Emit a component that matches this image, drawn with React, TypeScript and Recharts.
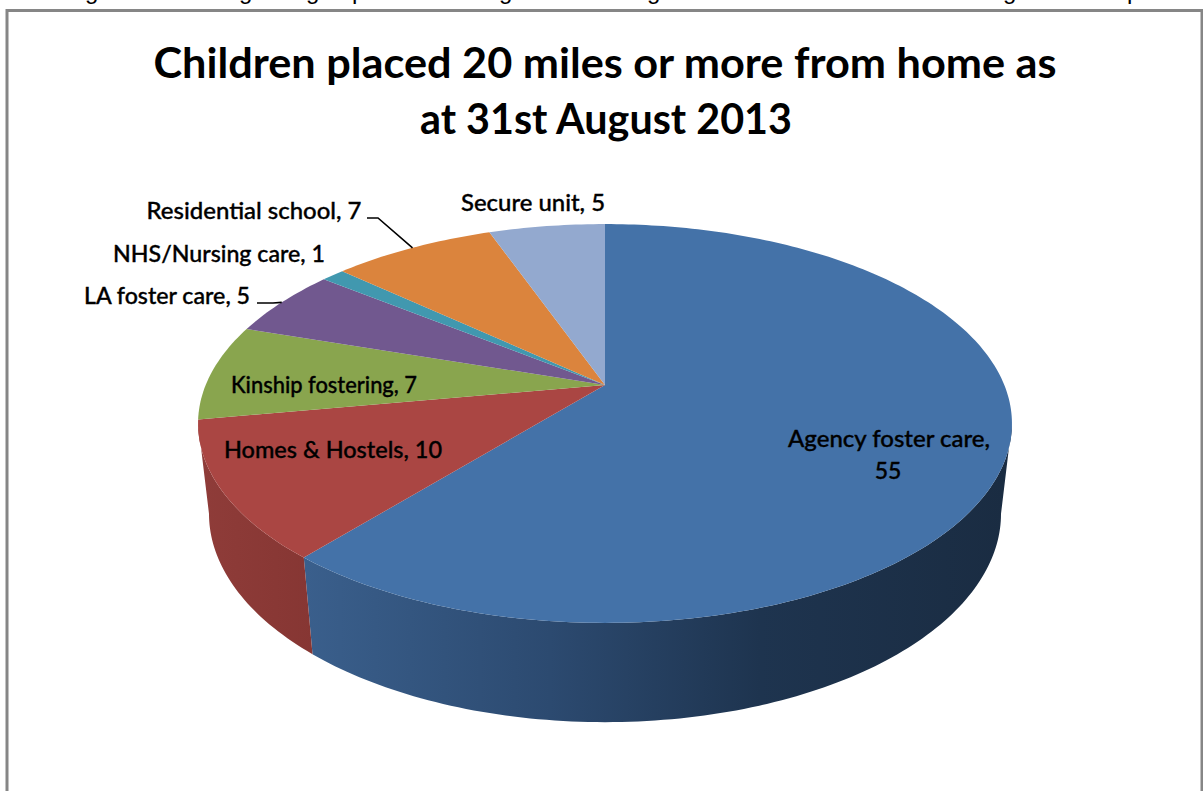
import React from "react";
import { PieChart, Pie, Cell } from "recharts";

// Placement categories and the number of children in each.
const categories = [
  "Agency foster care",
  "Homes & Hostels",
  "Kinship fostering",
  "LA foster care",
  "NHS/Nursing care",
  "Residential school",
  "Secure unit",
];
const childCounts = [55, 10, 7, 5, 1, 7, 5];
const topColors = ["#4472A8", "#AA4643", "#89A54E", "#71588F", "#4198AF", "#DB843D", "#93A9CF"];
const wallColors = ["url(#agencyWall)", "url(#homesWall)", "none", "none", "none", "none", "none"];

const titleLines = ["Children placed 20 miles or more from home as", "at 31st August 2013"];
const titleWidths = [903, 372];

// Label placement: horizontal centre and baseline of each label's first line, and its set width.
const labelCentres: [number, number][] = [
  [889, 447],
  [333, 458],
  [324, 393],
  [167, 304],
  [219, 262],
  [254, 219],
  [533, 211],
];
const labelWidths = [202, 218, 186, 166, 212, 215, 144];
const labelLeaders: ([number, number][] | null)[] = [
  null,
  null,
  null,
  [[257, 303], [273, 303]],
  null,
  [[367, 218], [378, 218]],
  null,
];

// Clipped line of body text sitting above the chart frame; only descenders show.
const clippedGlyphs = "gggpgggp";
const clippedGlyphX = "85 239 306 352 499 647 1003 1127";

const WIDTH = 1203;
const HEIGHT = 791;
const CX = 605;
const CY = 385;

type Plane = { apexY: number; a: number; b: number; k: number };
const topPlane: Plane = { apexY: CY, a: 399.3, b: 192, k: 0.193 };
const basePlane: Plane = { apexY: 474, a: 388.8, b: 201, k: 0.19 };

// Perspective projection of a disc lying in a tilted plane; theta runs clockwise from 12 o'clock.
function project(p: Plane, thetaDeg: number): [number, number] {
  const t = (thetaDeg * Math.PI) / 180;
  const den = 1 + p.k * Math.cos(t);
  return [CX + (p.a * Math.sin(t)) / den, p.apexY - (p.b * Math.cos(t)) / den];
}

function arcPoints(p: Plane, from: number, to: number): [number, number][] {
  const steps = Math.max(2, Math.ceil(Math.abs(to - from)));
  const pts: [number, number][] = [];
  for (let i = 0; i <= steps; i++) pts.push(project(p, from + ((to - from) * i) / steps));
  return pts;
}

const toPath = (pts: [number, number][]) =>
  pts.map(([x, y], i) => `${i ? "L" : "M"}${x.toFixed(2)} ${y.toFixed(2)}`).join(" ");

// Recharts hands over angles counter-clockwise from 3 o'clock.
const toTheta = (angle: number) => 90 - angle;

// The side wall only shows between the two points where the rim meets its silhouette.
const WALL_START = 101;
const WALL_END = 259;

function Slice3D(props: any) {
  const { startAngle, endAngle, fill, index } = props;
  const from = toTheta(startAngle);
  const to = toTheta(endAngle);
  const wallFrom = Math.max(from, WALL_START);
  const wallTo = Math.min(to, WALL_END);
  const wall = wallColors[index];
  return (
    <g>
      {wall !== "none" && wallTo > wallFrom && (
        <path
          d={`${toPath([...arcPoints(topPlane, wallFrom, wallTo), ...arcPoints(basePlane, wallTo, wallFrom)])} Z`}
          fill={wall}
        />
      )}
      <path d={`${toPath([[CX, CY], ...arcPoints(topPlane, from, to)])} Z`} fill={fill} />
    </g>
  );
}

function SliceLabel(props: any) {
  const { index, name, value, startAngle, endAngle } = props;
  const [x, y] = labelCentres[index];
  const style = {
    fontFamily: "Lato, sans-serif",
    fontSize: 23,
    fontWeight: 500,
    fill: "#000",
    stroke: "#000",
    strokeWidth: 0.35,
  };
  const leader = labelLeaders[index];
  const rim = project(topPlane, (toTheta(startAngle) + toTheta(endAngle)) / 2);
  const wrapped = index === 0;
  return (
    <g>
      {leader && (
        <polyline
          points={[...leader, rim].map((p) => p.join(",")).join(" ")}
          fill="none"
          stroke="#000"
          strokeWidth={1.6}
        />
      )}
      <text
        x={x}
        y={y}
        textAnchor="middle"
        style={style}
        textLength={labelWidths[index]}
        lengthAdjust="spacingAndGlyphs"
      >
        {wrapped ? `${name},` : `${name}, ${value}`}
      </text>
      {wrapped && (
        <text x={x - 1} y={y + 32} textAnchor="middle" style={style}>
          {value}
        </text>
      )}
    </g>
  );
}

const rows = categories.map((name, i) => ({ name, value: childCounts[i] }));

export default function App() {
  return (
    <div style={{ position: "absolute", left: 0, top: 0, width: WIDTH, height: HEIGHT, overflow: "hidden", background: "#fff" }}>
      <PieChart width={WIDTH} height={HEIGHT} margin={{ top: 0, right: 0, bottom: 0, left: 0 }}>
        <defs>
          <linearGradient id="agencyWall" gradientUnits="userSpaceOnUse" x1="305" y1="0" x2="1005" y2="0">
            <stop offset="0" stopColor="#3A5F8C" />
            <stop offset="0.35" stopColor="#2C4A70" />
            <stop offset="0.65" stopColor="#1E344F" />
            <stop offset="1" stopColor="#1A2C42" />
          </linearGradient>
          <linearGradient id="homesWall" gradientUnits="userSpaceOnUse" x1="198" y1="0" x2="314" y2="0">
            <stop offset="0" stopColor="#8F3C39" />
            <stop offset="1" stopColor="#863633" />
          </linearGradient>
        </defs>
        <path d="M7 791 V10.5 H1202 V791" fill="none" stroke="#868686" strokeWidth={3} />
        <text x={clippedGlyphX} y={-1} style={{ fontFamily: "Liberation Sans, sans-serif", fontSize: 24, fill: "#000" }}>
          {clippedGlyphs}
        </text>
        <g style={{ fontFamily: "Lato, sans-serif", fontSize: 42.5, fontWeight: 700 }} textAnchor="middle" fill="#000">
          {titleLines.map((line, i) => (
            <text key={line} x={i ? 606 : 605} y={78 + i * 56} textLength={titleWidths[i]} lengthAdjust="spacingAndGlyphs">
              {line}
            </text>
          ))}
        </g>
        <Pie
          data={rows}
          dataKey="value"
          nameKey="name"
          cx={CX}
          cy={CY}
          innerRadius={0}
          outerRadius={400}
          startAngle={90}
          endAngle={-270}
          stroke="none"
          isAnimationActive={false}
          shape={Slice3D}
          label={SliceLabel}
          labelLine={false}
        >
          {rows.map((row, i) => (
            <Cell key={row.name} fill={topColors[i]} />
          ))}
        </Pie>
      </PieChart>
    </div>
  );
}
